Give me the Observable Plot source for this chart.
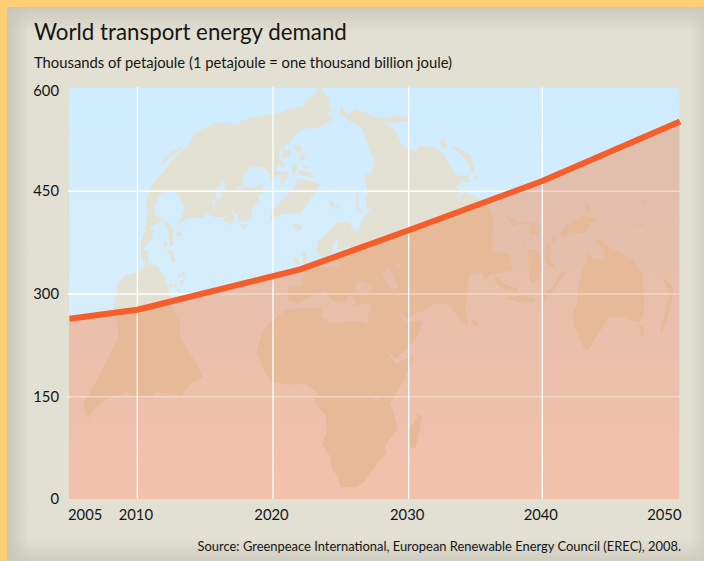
<!DOCTYPE html>
<html><head><meta charset="utf-8">
<script src="https://cdn.jsdelivr.net/npm/d3@7"></script>
<script src="https://cdn.jsdelivr.net/npm/@observablehq/plot@0.6"></script>
<style>
html,body{margin:0;padding:0;background:#FFCF76;width:704px;height:561px;overflow:hidden;font-family:Lato,sans-serif;color:#151515}
#panel{position:absolute;left:7px;top:7px;width:697px;height:554px;background:
 linear-gradient(90deg,#c9c7b9 0,rgba(226,224,210,0) 22px),
 linear-gradient(180deg,#cbc9bb 0,rgba(226,224,210,0) 26px),
 linear-gradient(0deg,#cfcdc0 0,rgba(226,224,210,0) 22px),
 linear-gradient(270deg,#d3d1c4 0,rgba(226,224,210,0) 14px),#E2E0D2}
#chart{position:absolute;left:0;top:0}
.t{position:absolute;white-space:nowrap}
#title{left:34px;top:16px;font-size:22.3px;line-height:32px}
#sub{left:34px;top:52px;font-size:14.8px;line-height:20px}
#src{right:23px;top:537px;font-size:12.93px;line-height:18px}
</style></head><body>
<div id="panel"></div>
<div id="chart"></div>
<div class="t" id="title">World transport energy demand</div>
<div class="t" id="sub">Thousands of petajoule (1 petajoule = one thousand billion joule)</div>
<div class="t" id="src">Source: Greenpeace International, European Renewable Energy Council (EREC), 2008.</div>
<script>
const years = [2005, 2010, 2022, 2030, 2039.85, 2050];
const demand = [264, 277, 336, 393, 465, 552];
const yTicks = [0, 150, 300, 450];
const midYears = [2010, 2020, 2030, 2040];
const gridYears = [2010, 2020, 2030, 2039.85];

const xDomain = [2005, 2050];
const xRange = [69, 679.5];
const yDomain = [0, 600];
const yRange = [499, 88];

// Background map outlines: [originX, originY, flat list of trace points at 3x]
const A=[68,85], B=[280,85], C=[68,260], D=[250,290], E=[460,190], F=[270,225];
const landTrace = [
 // Americas
 [[B,[0,190,30,170,40,150,70,130,120,125,160,100,135,85,160,75,145,65,150,45,135,30,125,8,110,10,95,35,75,42,70,62,30,68,0,80]],
  [A,[660,78,610,85,585,90,552,95,520,105,505,118,470,112,440,113,410,127,378,143,365,168,352,188,325,208,300,240,280,265,255,288,240,320,232,350,237,375,228,440,215,480,222,520,232,535]],
  [C,[230,15,205,35,170,45,148,68,135,150,152,225,105,320,70,385,45,430,50,460,70,488,60,470,80,440,115,415,180,395,183,410,240,415,265,395,340,405,365,370,402,350,385,310,355,265,335,225,335,190,310,140,300,85,285,40,265,15,240,10,238,0]],
  [A,[240,500,225,490,250,460,255,435,243,425,285,405,260,385,258,360,275,325,310,315,335,335,347,370,340,395,322,420,360,395,400,398,415,385,440,395,470,393,465,408,490,418,497,388,480,372,505,388,515,408,530,408,548,395,552,365,575,345,565,330,585,325,583,295,560,305,525,305,500,315,525,295,525,270,550,243,580,245,600,260,610,290,625,270,645,262,620,255,630,235,650,240,630,215,635,190,660,178]]],
 [[A,[277,243,285,225,310,198,345,183,340,190,305,215,285,240]]],
 [[A,[285,405,298,412,315,430,315,480,305,485,300,440]]],
 [[A,[297,495,310,495,323,528,312,530]]],
 [[A,[325,440,338,440,338,452,325,452]]],
 [[A,[286,470,295,472,295,485,288,483]]],
 [[A,[515,415,540,418,522,435]]],
 // Greenland side
 [[A,[605,405,610,375,636,350]],[B,[40,310,50,280,90,285,120,298,90,340,60,385,20,385]],[A,[640,388,620,395]]],
 // Arctic islands
 [[B,[5,190,30,195,25,215,5,220]]],[[B,[40,180,60,180,65,195,50,200]]],[[B,[0,235,15,240,0,250]]],
 [[B,[35,245,50,235,45,268,35,265]]],[[B,[60,205,75,205,70,225,60,225]]],[[B,[50,255,90,258,100,278,60,268]]],
 [[B,[0,260,25,255,20,275,0,305]]],[[B,[62,240,85,245,75,252]]],
 // North Atlantic islands
 [[B,[40,415,65,420,65,432,45,434]]],[[B,[145,345,160,348,165,370,150,365]]],[[B,[165,358,175,362,170,370]]],
 [[B,[225,325,233,325,232,365,226,365]]],[[B,[225,365,250,378,240,382]]],[[B,[192,125,203,128,198,134]]],
 [[B,[178,60,188,65,182,72]]],[[B,[255,335,275,345,268,372,258,368]]],
 [[F,[70,100,82,95,90,115,75,118]]],[[F,[95,75,106,85,110,115,98,112]]],[[F,[70,0,95,0,92,14,75,14]]],
 // Eurasia
 [[B,[180,85,205,105,245,130,260,170,265,190,282,225,275,260,250,270,262,320,255,345,272,370,245,400,232,440,215,425,205,410,175,410,150,430,115,465,108,490]],
  [F,[140,85,160,95,185,85,188,60,205,32,198,72,240,65,215,90,110,125,100,145,95,180,50,188,55,225,85,235]],
  [D,[185,15,225,0,240,25,265,40,285,35,295,15,310,20,315,45,345,38,360,45,350,95,370,130,400,170,435,205,480,165,505,130,515,90,480,95,460,90,438,55,470,88,490,68,520,60,550,40,590,40,600,50,625,85,650,105]],
  [E,[22,400,12,345,20,320,22,280,30,248,50,245,65,250,75,272,85,255,105,250,130,245,155,240,150,195,100,180,95,130,100,90,85,50]],
  [B,[590,335,555,320,535,330,540,315,525,305,545,290,570,290,565,270,530,270,510,240,490,205,460,185,415,180,405,200,365,180,345,135,310,110,350,112,393,103,385,98,350,88,315,98,290,95,250,80,225,70,205,85,185,70,178,62]]],
 // Far-east islands above and around the line
 [[B,[475,170,490,160,502,185,490,188]]],[[B,[510,180,530,185,570,210,585,265,575,260,545,210]]],[[B,[580,270,595,278,585,283]]],
 // Africa
 [[D,[110,55,60,95,35,125,18,180,40,240,65,275,115,282,165,280,200,305,192,335,225,375,230,420,215,460,240,500,245,535,262,560,270,590,320,590,345,570,365,540,385,510,408,490,403,465,442,415,430,370,420,340,465,260,490,197,435,218,400,170,370,130,345,95,330,92,290,92,270,100,240,95,210,80,215,50,130,55]]],
 [[D,[500,370,515,378,503,440,495,470,480,475,473,440,478,410,500,385]]],
 // South-east Asia and Oceania
 [[E,[203,175,225,178,240,195,245,260,215,280,205,265]]],
 [[E,[105,255,130,280,170,293,172,305,130,298,100,270]]],
 [[E,[130,320,190,315,225,325,220,335,170,335]]],
 [[E,[300,125,325,100,365,75,415,85,385,100,375,128,330,125,305,145]]],
 [[E,[140,80,160,85,175,100,155,108]]],[[E,[180,95,225,100,235,130,210,135,205,105]]],[[E,[185,135,195,165,188,160]]],
 [[E,[255,155,270,160,265,200,290,240,255,215]]],[[E,[270,135,290,150,275,155]]],[[E,[250,310,275,290,305,245,315,245,280,295,250,330]]],
 [[E,[100,145,110,150,105,160]]],[[E,[375,40,385,40,388,62,375,60]]],[[E,[525,103,550,100,540,108]]],[[E,[540,12,555,35,545,35]]],
 [[E,[385,185,398,205,435,205,430,180,400,140,440,165,470,182,515,205,545,250,552,310,550,375,535,395,480,380,445,380,420,420,395,460,382,480,370,470,345,420,338,370,350,340,352,290,365,240]]],
 [[E,[535,405,550,410,550,435,540,435]]],
 [[E,[605,262,625,275,640,290,632,340,618,345,628,310]]],[[E,[620,345,628,345,620,385,605,425,600,420]]],
 [[E,[35,388,50,392,50,405,38,405]]],
 // Caribbean specks
 [[C,[303,70,312,70,312,80,303,80]]],[[C,[316,72,325,72,325,80,316,80]]],[[C,[328,42,337,42,337,50,328,50]]],
 [[C,[340,35,348,35,348,42,340,42]]],[[C,[343,45,350,45,350,52,343,52]]],[[C,[335,60,345,60,345,68,335,68]]],[[C,[327,88,335,88,335,95,327,95]]]
];
// Water inside the land: lakes above the line, seas below it
const lakeTrace = [
 [[A,[425,315,450,308,462,295,450,282,465,290,472,305,458,320,460,335,442,338,445,322]]],
 [[A,[430,340,438,345,442,360,434,355]]],[[A,[447,355,455,356,452,364]]]
];
const seaTrace = [
 [[F,[255,175,275,165,310,185,285,205,255,205]]],
 [[F,[335,140,355,125,365,150,385,185,365,195,345,170]]],
 [[F,[378,115,390,116,388,126,380,126]]],
 [[F,[130,110,205,112,205,122,160,125]]],
 [[D,[368,320,385,315,390,328,375,335]]]
];

const toYear = d3.scaleLinear(xRange, xDomain);
const toValue = d3.scaleLinear(yRange, yDomain);
const flatten = (trace, tag) => trace.flatMap((poly, i) => poly.flatMap(([[ox, oy], pts]) =>
  d3.range(0, pts.length, 2).map(j => ({x: toYear(ox + pts[j] / 3), y: toValue(oy + pts[j + 1] / 3), id: tag + i}))));
const landRows = flatten(landTrace, "l");
const lakeRows = flatten(lakeTrace, "w");
const seaRows = flatten(seaTrace, "s");
const series = years.map((year, i) => ({year, value: demand[i]}));

const defs = () => {
  const ns = "http://www.w3.org/2000/svg";
  const d = document.createElementNS(ns, "defs");
  d.innerHTML = `<linearGradient id="sky" x1="0" y1="0" x2="0" y2="1"><stop offset="0" stop-color="#CEEBFF"/><stop offset="1" stop-color="#DEF0F5"/></linearGradient>
  <linearGradient id="low" x1="0" y1="0" x2="0" y2="1"><stop offset="0" stop-color="#DDBFAD"/><stop offset="0.45" stop-color="#E8BFAB"/><stop offset="1" stop-color="#F2C1AB"/></linearGradient>`;
  return d;
};

const svg = Plot.plot({
  width: 704, height: 561, marginTop: 88, marginLeft: 69, marginRight: 25, marginBottom: 62,
  style: {background: "transparent", fontFamily: 'Lato,sans-serif', fontSize: "14.8px", color: "#151515"},
  x: {domain: xDomain, range: xRange, axis: null},
  y: {domain: yDomain, range: yRange, axis: null},
  marks: [
    defs,
    Plot.rect([0], {x1: 2005, x2: 2050, y1: 0, y2: 600, fill: "url(#sky)"}),
    Plot.line(landRows, {x: "x", y: "y", z: "id", fill: "#E3E1D3", stroke: "none"}),
    Plot.line(lakeRows, {x: "x", y: "y", z: "id", fill: "#D3ECFA", stroke: "none"}),
    Plot.ruleY([150, 300, 450], {x1: 2004.9, x2: 2050, stroke: "white", strokeWidth: 1.3}),
    Plot.areaY(series, {x: "year", y: "value", fill: "url(#low)", className: "under"}),
    Plot.line(landRows, {x: "x", y: "y", z: "id", fill: "#E6B998", stroke: "none", className: "clipped"}),
    Plot.line(seaRows, {x: "x", y: "y", z: "id", fill: "#E6BFAA", stroke: "none", className: "clipped"}),
    Plot.ruleY([150, 300, 450], {x1: 2004.9, x2: 2050, stroke: "#F6D6C4", strokeWidth: 1.3, className: "clipped"}),
    Plot.ruleX(gridYears, {y1: 0, y2: 601, stroke: "white", strokeWidth: 1.3}),
    Plot.line(series, {x: "year", y: "value", stroke: "#F55D2A", strokeWidth: 6, strokeLinecap: "butt", strokeLinejoin: "miter"}),
    Plot.axisY(yTicks, {anchor: "left", tickSize: 0, tickPadding: 10.5, label: null}),
    Plot.axisY([600], {anchor: "left", tickSize: 0, tickPadding: 10.5, label: null, dy: 3}),
    Plot.text(midYears, {x: d => d === 2040 ? 2039.85 : d, y: 0, text: d => String(d), dy: 16, dx: -1.5}),
    Plot.text([2005], {x: d => d, y: 0, text: d => String(d), dy: 16, textAnchor: "start", dx: -1.5}),
    Plot.text([2050], {x: d => d, y: 0, text: d => String(d), dy: 16, textAnchor: "end", dx: 1.5})
  ]
});
document.getElementById("chart").append(svg);

// Keep the lower map layers inside the area under the demand line
const under = svg.querySelector('.under path') || svg.querySelector('path[fill="url(#low)"]');
const ns = "http://www.w3.org/2000/svg";
const cp = document.createElementNS(ns, "clipPath");
cp.setAttribute("id", "underLine");
const cpPath = document.createElementNS(ns, "path");
cpPath.setAttribute("d", under.getAttribute("d"));
cp.append(cpPath);
svg.append(cp);
svg.querySelectorAll(".clipped").forEach(g => g.setAttribute("clip-path", "url(#underLine)"));
</script>
</body></html>
